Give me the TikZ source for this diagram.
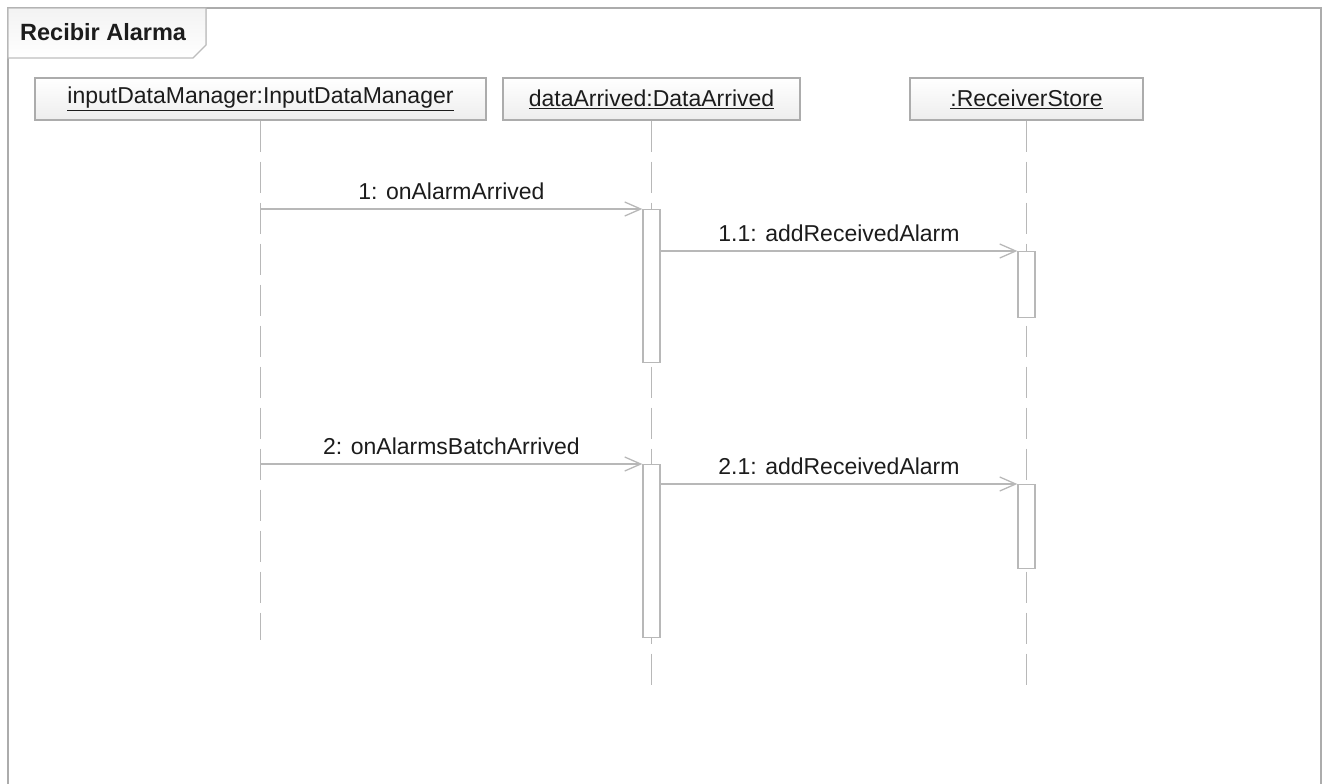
\documentclass[tikz,border=0pt]{standalone}
\usepackage{fontspec}
\setmainfont{Liberation Sans}
\usepackage{tikz}
\usetikzlibrary{calc,positioning,arrows.meta,shapes}
\definecolor{lin}{HTML}{B8B8B8}
\definecolor{frm}{HTML}{ACACAC}
\definecolor{txt}{HTML}{1C1C1C}

\begin{document}
\begin{tikzpicture}[x=1pt, y=-1pt]
\tikzstyle{obj}=[rectangle, draw=frm, line width=1.3pt, top color=white,
                 bottom color=gray!14, minimum height=42pt, inner sep=0pt,
                 font=\fontsize{23}{26}\selectfont, text=txt]
\tikzstyle{act}=[rectangle, draw=lin, fill=white, line width=1.3pt,
                 minimum width=17pt, inner sep=0pt, anchor=north]
\tikzstyle{life}=[draw=lin, line width=1.3pt, dash pattern=on 31pt off 10pt]
\tikzstyle{msg}=[draw=lin, line width=1.3pt,
                 -{Straight Barb[length=16pt, width=14pt]}]
\tikzstyle{lbl}=[midway, anchor=base, yshift=10pt, inner sep=0pt,
                 font=\fontsize{23}{26}\selectfont, text=txt]
\useasboundingbox (0,0) rectangle (1326,784);
% frame and title tab
\draw[frm, line width=2pt] (8,800) -- (8,8) -- (1321,8) -- (1321,800);
\filldraw[draw=frm!80, line width=1.3pt, top color=gray!10, bottom color=white]
  (8,8) -- (206,8) -- (206,45) -- (193,58) -- (8,58) -- cycle;
\node[anchor=base west, inner sep=0pt, text=txt,
      font=\fontsize{23.5}{26}\selectfont\bfseries] (T) at (20,41) {Recibir Alarma};
% objects
\node[obj, minimum width=451pt] (I) at (260.5,99) {\underline{inputDataManager:InputDataManager}};
\node[obj, minimum width=297pt] (D) at (651.5,99) {\underline{dataArrived:DataArrived}};
\node[obj, minimum width=233pt] (R) at (1026.5,99) {\underline{:ReceiverStore}};
\coordinate (Ie) at (260.5,640);
\coordinate (De) at (651.5,686);
\coordinate (Re) at (1026.5,686);
\foreach \i in {I,D,R}{\draw[life] (\i.south) -- (\i e);}
% activations
\node[act, minimum height=153pt] (D1) at (651.5,209) {};
\node[act, minimum height=66pt] (R1) at (1026.5,251) {};
\node[act, minimum height=173pt] (D2) at (651.5,464) {};
\node[act, minimum height=84pt] (R2) at (1026.5,484) {};
% messages
\draw[msg] (I.south |- D1.north) -- node[lbl]{1: onAlarmArrived} (D1.north west);
\draw[msg] (D1.east |- R1.north) -- node[lbl]{1.1: addReceivedAlarm} (R1.north west);
\draw[msg] (I.south |- D2.north) -- node[lbl]{2: onAlarmsBatchArrived} (D2.north west);
\draw[msg] (D2.east |- R2.north) -- node[lbl]{2.1: addReceivedAlarm} (R2.north west);
\end{tikzpicture}
\end{document}
